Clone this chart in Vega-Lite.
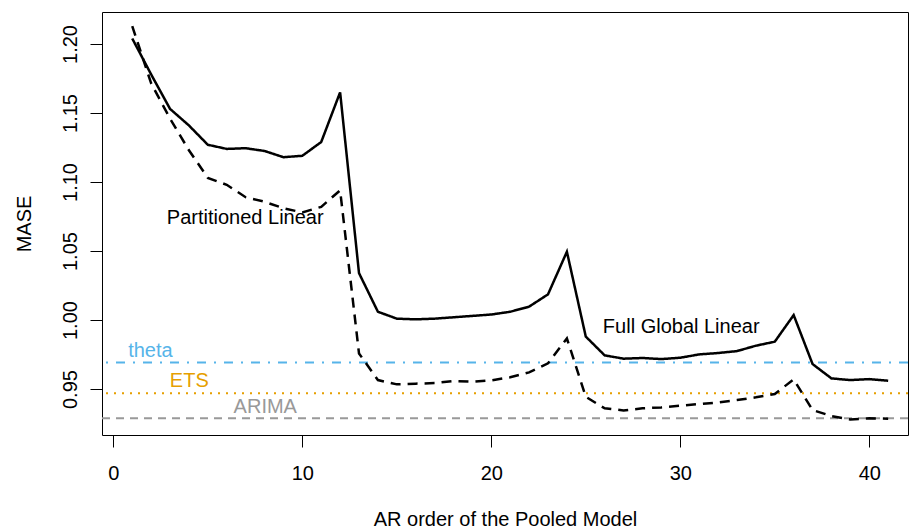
{
  "$schema": "https://vega.github.io/schema/vega-lite/v6.json",
  "width": 806,
  "height": 423,
  "autosize": {"type": "none"},
  "padding": {"left": 102, "top": 12, "right": 6, "bottom": 94},
  "config": {
    "font": "Liberation Sans",
    "view": {"stroke": "black", "strokeWidth": 1},
    "axis": {"grid": false, "domain": false, "tickColor": "black", "tickSize": 12, "tickWidth": 1, "labelColor": "black", "titleColor": "black", "labelFontSize": 20, "titleFontSize": 20, "titleFontWeight": "normal", "labelFont": "Liberation Sans", "titleFont": "Liberation Sans"}
  },
  "datasets": {
    "models": [
      {"p": 1, "mase": 1.204, "model": "Full Global Linear"},
      {"p": 2, "mase": 1.178, "model": "Full Global Linear"},
      {"p": 3, "mase": 1.153, "model": "Full Global Linear"},
      {"p": 4, "mase": 1.141, "model": "Full Global Linear"},
      {"p": 5, "mase": 1.127, "model": "Full Global Linear"},
      {"p": 6, "mase": 1.124, "model": "Full Global Linear"},
      {"p": 7, "mase": 1.1245, "model": "Full Global Linear"},
      {"p": 8, "mase": 1.1225, "model": "Full Global Linear"},
      {"p": 9, "mase": 1.118, "model": "Full Global Linear"},
      {"p": 10, "mase": 1.119, "model": "Full Global Linear"},
      {"p": 11, "mase": 1.129, "model": "Full Global Linear"},
      {"p": 12, "mase": 1.165, "model": "Full Global Linear"},
      {"p": 13, "mase": 1.034, "model": "Full Global Linear"},
      {"p": 14, "mase": 1.006, "model": "Full Global Linear"},
      {"p": 15, "mase": 1.001, "model": "Full Global Linear"},
      {"p": 16, "mase": 1.0005, "model": "Full Global Linear"},
      {"p": 17, "mase": 1.001, "model": "Full Global Linear"},
      {"p": 18, "mase": 1.002, "model": "Full Global Linear"},
      {"p": 19, "mase": 1.003, "model": "Full Global Linear"},
      {"p": 20, "mase": 1.004, "model": "Full Global Linear"},
      {"p": 21, "mase": 1.006, "model": "Full Global Linear"},
      {"p": 22, "mase": 1.0097, "model": "Full Global Linear"},
      {"p": 23, "mase": 1.0186, "model": "Full Global Linear"},
      {"p": 24, "mase": 1.0495, "model": "Full Global Linear"},
      {"p": 25, "mase": 0.988, "model": "Full Global Linear"},
      {"p": 26, "mase": 0.9744, "model": "Full Global Linear"},
      {"p": 27, "mase": 0.972, "model": "Full Global Linear"},
      {"p": 28, "mase": 0.9725, "model": "Full Global Linear"},
      {"p": 29, "mase": 0.9717, "model": "Full Global Linear"},
      {"p": 30, "mase": 0.9727, "model": "Full Global Linear"},
      {"p": 31, "mase": 0.9751, "model": "Full Global Linear"},
      {"p": 32, "mase": 0.9761, "model": "Full Global Linear"},
      {"p": 33, "mase": 0.9775, "model": "Full Global Linear"},
      {"p": 34, "mase": 0.9814, "model": "Full Global Linear"},
      {"p": 35, "mase": 0.9843, "model": "Full Global Linear"},
      {"p": 36, "mase": 1.0036, "model": "Full Global Linear"},
      {"p": 37, "mase": 0.9681, "model": "Full Global Linear"},
      {"p": 38, "mase": 0.9577, "model": "Full Global Linear"},
      {"p": 39, "mase": 0.9565, "model": "Full Global Linear"},
      {"p": 40, "mase": 0.9572, "model": "Full Global Linear"},
      {"p": 41, "mase": 0.956, "model": "Full Global Linear"},
      {"p": 1, "mase": 1.213, "model": "Partitioned Linear"},
      {"p": 2, "mase": 1.1715, "model": "Partitioned Linear"},
      {"p": 3, "mase": 1.146, "model": "Partitioned Linear"},
      {"p": 4, "mase": 1.123, "model": "Partitioned Linear"},
      {"p": 5, "mase": 1.103, "model": "Partitioned Linear"},
      {"p": 6, "mase": 1.098, "model": "Partitioned Linear"},
      {"p": 7, "mase": 1.089, "model": "Partitioned Linear"},
      {"p": 8, "mase": 1.0857, "model": "Partitioned Linear"},
      {"p": 9, "mase": 1.081, "model": "Partitioned Linear"},
      {"p": 10, "mase": 1.078, "model": "Partitioned Linear"},
      {"p": 11, "mase": 1.082, "model": "Partitioned Linear"},
      {"p": 12, "mase": 1.094, "model": "Partitioned Linear"},
      {"p": 13, "mase": 0.9758, "model": "Partitioned Linear"},
      {"p": 14, "mase": 0.9565, "model": "Partitioned Linear"},
      {"p": 15, "mase": 0.9534, "model": "Partitioned Linear"},
      {"p": 16, "mase": 0.9539, "model": "Partitioned Linear"},
      {"p": 17, "mase": 0.9543, "model": "Partitioned Linear"},
      {"p": 18, "mase": 0.9558, "model": "Partitioned Linear"},
      {"p": 19, "mase": 0.9553, "model": "Partitioned Linear"},
      {"p": 20, "mase": 0.9563, "model": "Partitioned Linear"},
      {"p": 21, "mase": 0.9585, "model": "Partitioned Linear"},
      {"p": 22, "mase": 0.9621, "model": "Partitioned Linear"},
      {"p": 23, "mase": 0.9686, "model": "Partitioned Linear"},
      {"p": 24, "mase": 0.9867, "model": "Partitioned Linear"},
      {"p": 25, "mase": 0.9444, "model": "Partitioned Linear"},
      {"p": 26, "mase": 0.936, "model": "Partitioned Linear"},
      {"p": 27, "mase": 0.9345, "model": "Partitioned Linear"},
      {"p": 28, "mase": 0.936, "model": "Partitioned Linear"},
      {"p": 29, "mase": 0.9367, "model": "Partitioned Linear"},
      {"p": 30, "mase": 0.9379, "model": "Partitioned Linear"},
      {"p": 31, "mase": 0.9391, "model": "Partitioned Linear"},
      {"p": 32, "mase": 0.9403, "model": "Partitioned Linear"},
      {"p": 33, "mase": 0.942, "model": "Partitioned Linear"},
      {"p": 34, "mase": 0.944, "model": "Partitioned Linear"},
      {"p": 35, "mase": 0.9464, "model": "Partitioned Linear"},
      {"p": 36, "mase": 0.957, "model": "Partitioned Linear"},
      {"p": 37, "mase": 0.9348, "model": "Partitioned Linear"},
      {"p": 38, "mase": 0.9304, "model": "Partitioned Linear"},
      {"p": 39, "mase": 0.928, "model": "Partitioned Linear"},
      {"p": 40, "mase": 0.9288, "model": "Partitioned Linear"},
      {"p": 41, "mase": 0.9285, "model": "Partitioned Linear"}
    ],
    "benchmarks": [
      {"method": "theta", "mase": 0.9693},
      {"method": "ETS", "mase": 0.947},
      {"method": "ARIMA", "mase": 0.9288}
    ],
    "labels": [
      {"text": "theta", "p": 1.96, "mase": 0.9775, "kind": "theta"},
      {"text": "ETS", "p": 4.02, "mase": 0.9558, "kind": "ETS"},
      {"text": "ARIMA", "p": 8.04, "mase": 0.937, "kind": "ARIMA"},
      {"text": "Partitioned Linear", "p": 6.98, "mase": 1.0739, "kind": "model"},
      {"text": "Full Global Linear", "p": 30.05, "mase": 0.9949, "kind": "model"}
    ]
  },
  "layer": [
    {
      "data": {"name": "benchmarks"},
      "mark": {"type": "rule", "strokeWidth": 2},
      "encoding": {
        "y": {"field": "mase", "type": "quantitative", "scale": {"domain": [0.9167, 1.2232], "nice": false, "zero": false},
              "axis": {"values": [0.95, 1.0, 1.05, 1.1, 1.15, 1.2], "format": ".2f", "labelAngle": -90, "labelAlign": "center", "labelBaseline": "bottom", "labelPadding": 10, "title": "MASE", "titlePadding": 26}},
        "color": {"field": "method", "type": "nominal", "scale": {"domain": ["theta", "ETS", "ARIMA"], "range": ["#56B4E9", "#E69F00", "#999999"]}, "legend": null},
        "strokeDash": {"field": "method", "type": "nominal", "scale": {"domain": ["theta", "ETS", "ARIMA"], "range": [[9, 8, 2, 8], [2, 6], [8, 6]]}, "legend": null}
      }
    },
    {
      "data": {"name": "models"},
      "mark": {"type": "line", "strokeWidth": 2.5, "color": "black"},
      "encoding": {
        "x": {"field": "p", "type": "quantitative", "scale": {"domain": [-0.6, 42.05], "nice": false, "zero": false},
              "axis": {"values": [0, 10, 20, 30, 40], "labelPadding": 16, "title": "AR order of the Pooled Model", "titlePadding": 26}},
        "y": {"field": "mase", "type": "quantitative"},
        "detail": {"field": "model", "type": "nominal"},
        "strokeDash": {"field": "model", "type": "nominal", "scale": {"domain": ["Full Global Linear", "Partitioned Linear"], "range": [[1, 0], [10, 7]]}, "legend": null}
      }
    },
    {
      "data": {"name": "labels"},
      "mark": {"type": "text", "fontSize": 20, "align": "center", "baseline": "middle", "font": "Liberation Sans"},
      "encoding": {
        "x": {"field": "p", "type": "quantitative"},
        "y": {"field": "mase", "type": "quantitative"},
        "text": {"field": "text"},
        "color": {"field": "kind", "type": "nominal", "scale": {"domain": ["theta", "ETS", "ARIMA", "model"], "range": ["#56B4E9", "#E69F00", "#999999", "black"]}, "legend": null}
      }
    }
  ],
  "resolve": {"scale": {"color": "independent", "strokeDash": "independent"}}
}
